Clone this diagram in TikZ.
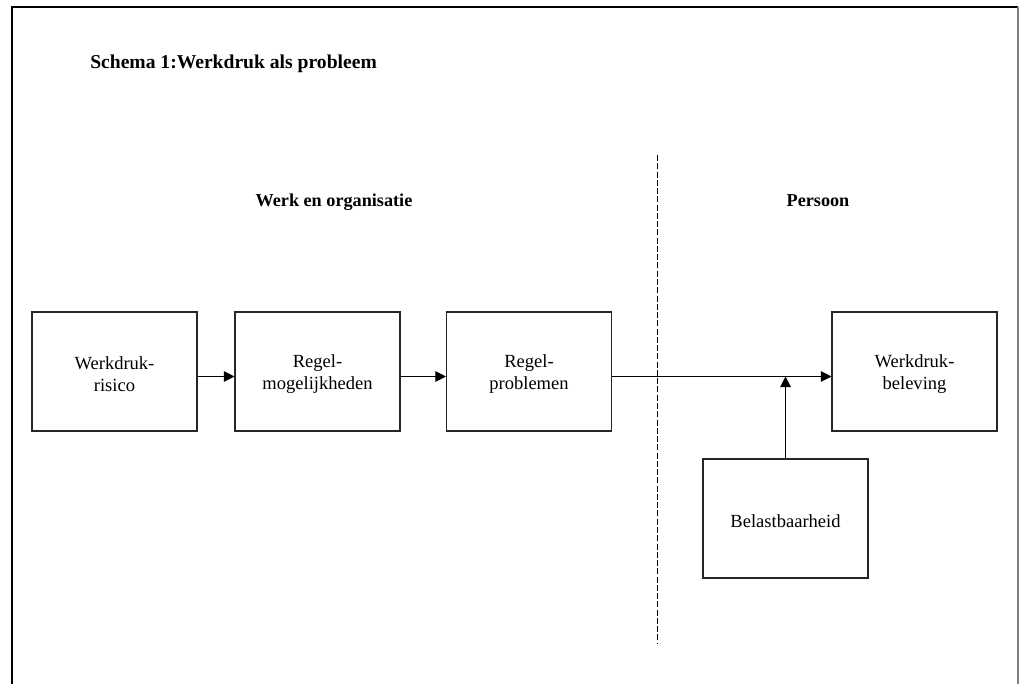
\documentclass[tikz,border=0pt]{standalone}
\usepackage{fontspec}
\setmainfont{Liberation Serif}
\usetikzlibrary{arrows.meta}
\begin{document}
\begin{tikzpicture}[x=0.75pt,y=-0.75pt,
  blok/.style={draw=black!85, line width=0.8pt, minimum width=123.75pt,
    minimum height=89.25pt, inner sep=0pt},
  bloktekst/.style={align=center, yshift=-2.25pt, inner sep=0pt,
    font=\fontsize{13.9}{16.5}\selectfont},
  pijl/.style={-{Triangle[length=8pt,width=8pt]}, line width=0.8pt},
  kop/.style={font=\fontsize{13.65}{16}\selectfont\bfseries, anchor=base}]
\useasboundingbox (0,0) rectangle (1019,684);

% frame around the scheme
\draw[line width=1.5pt] (12,684) -- (12,7.5) -- (1018,7.5);
\draw[black!50, line width=0.8pt] (1018,7.5) -- (1018,684);

% title and column headings
\node[anchor=base west, font=\fontsize{14.7}{17}\selectfont\bfseries, inner sep=0pt] (titel) at (90,69) {Schema 1:Werkdruk als probleem};
\node[kop] (werk) at (334,206) {Werk en organisatie};
\node[kop] (persoon) at (818,206) {Persoon};

% divider between work and person
\coordinate (d1) at (657,155);
\coordinate (d2) at (657,643);
\draw[line width=0.75pt, dash pattern=on 4.5pt off 1.7pt] (d1) -- (d2);

% boxes with their texts
\node[blok, label={[name=t1, bloktekst]center:Werkdruk-\\risico}] (risico) at (114.5,371.5) {};
\node[blok, label={[name=t2, bloktekst]center:Regel-\\mogelijkheden}] (mogelijk) at (317.5,371.5) {};
\node[blok, label={[name=t3, bloktekst]center:Regel-\\problemen}] (problemen) at (529,371.5) {};
\node[blok, label={[name=t4, bloktekst]center:Werkdruk-\\beleving}] (beleving) at (914.5,371.5) {};
\node[blok, label={[name=t5, bloktekst]center:Belastbaarheid}] (belast) at (785.5,518.5) {};

% connectors, running slightly below the box centres
\coordinate (samen) at ([yshift=-3.75pt]belast.north |- beleving.west);
\draw[pijl] ([yshift=-3.75pt]risico.east) -- ([yshift=-3.75pt]mogelijk.west);
\draw[pijl] ([yshift=-3.75pt]mogelijk.east) -- ([yshift=-3.75pt]problemen.west);
\draw[pijl] ([yshift=-3.75pt]problemen.east) -- ([yshift=-3.75pt]beleving.west);
\draw[pijl] (belast) -- (samen);
\end{tikzpicture}
\end{document}
